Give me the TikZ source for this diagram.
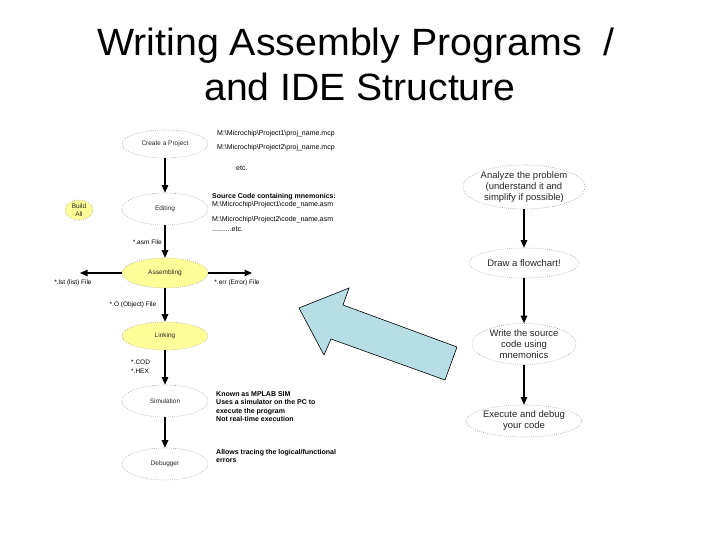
\documentclass[tikz,border=0pt]{standalone}
\usepackage{fontspec}
\setmainfont{Liberation Sans}
\usetikzlibrary{arrows.meta,shapes.geometric}
\definecolor{yellowfill}{RGB}{255,255,153}
\definecolor{arrowblue}{RGB}{183,222,228}
\begin{document}
\begin{tikzpicture}[x=1pt,y=-1pt,
  flow/.style={ellipse,draw=gray!75,dash pattern=on 0.7pt off 1.4pt,line width=0.6pt,inner sep=0pt,font=\fontsize{6.5}{7.5}\selectfont,align=center,text=black!85},
  ylw/.style={flow,fill=yellowfill},
  rflow/.style={flow,font=\fontsize{9.5}{11}\selectfont},
  conn/.style={line width=1.1pt,-{Triangle[width=6.5pt,length=7.5pt]}},
  note/.style={anchor=west,font=\fontsize{7}{8.5}\selectfont,align=left,inner sep=0pt},
  bnote/.style={note,font=\fontsize{7}{8.5}\selectfont\bfseries},
  lbl/.style={font=\fontsize{6.5}{8.5}\selectfont,inner sep=0pt,align=left},
  titletext/.style={font=\fontsize{38}{46}\selectfont,inner sep=0pt,anchor=base}
]
\useasboundingbox (0,0) rectangle (720,540);
% title
\node[titletext] (t1) at (356,56) {\scalebox{1.035}[1]{Writing Assembly Programs\ \ /}};
\node[titletext] (t2) at (360,101) {\scalebox{1.03}[1]{and IDE Structure}};

% left flowchart
\node[flow,minimum width=86pt,minimum height=28pt] (create) at (165,144) {Create a Project};
\node[flow,minimum width=86pt,minimum height=32pt] (edit) at (165,209) {Editing};
\node[ylw,minimum width=28pt,minimum height=20pt] (build) at (79,210) {Build\\All};
\node[ylw,minimum width=86pt,minimum height=30pt] (asm) at (165,273) {Assembling};
\node[ylw,minimum width=86pt,minimum height=28pt] (link) at (165,336) {Linking};
\node[flow,minimum width=86pt,minimum height=32pt] (sim) at (165,401) {Simulation};
\node[flow,minimum width=86pt,minimum height=32pt] (dbg) at (165,464) {Debugger};

\coordinate (lstend) at (80,273);
\coordinate (errend) at (252,273);

\draw[conn] (create) -- (edit);
\draw[conn] (edit) -- (asm);
\draw[conn] (asm) -- (link);
\draw[conn] (link) -- (sim);
\draw[conn] (sim) -- (dbg);
\draw[conn] (asm) -- (lstend);
\draw[conn] (asm) -- (errend);

\node[lbl,anchor=east] (asmfile) at (162,242) {*.asm File};
\node[lbl] (lstfile) at (73,283) {*.lst (list) File};
\node[lbl] (errfile) at (237,283) {*.err (Error) File};
\node[lbl] (objfile) at (133,305) {*.O (Object) File};
\node[lbl,anchor=north west] (codhex) at (131,360) {*.COD\\*.HEX};

% notes
\node[note] (p1) at (217,134) {M:\textbackslash Microchip\textbackslash Project1\textbackslash proj\_name.mcp};
\node[note] (p2) at (217,148) {M:\textbackslash Microchip\textbackslash Project2\textbackslash proj\_name.mcp};
\node[note] (etc1) at (236,168) {etc.};
\node[bnote] (src) at (212,197) {Source Code containing mnemonics:};
\node[note] (c1) at (212,205) {M:\textbackslash Microchip\textbackslash Project1\textbackslash code\_name.asm};
\node[note] (c2) at (212,220) {M:\textbackslash Microchip\textbackslash Project2\textbackslash code\_name.asm};
\node[note] (etc2) at (212,229) {..........etc.};
\node[bnote,anchor=north west] (known) at (216,391) {Known as MPLAB SIM\\Uses a simulator on the PC to\\execute the program\\Not real-time execution};
\node[bnote,anchor=north west] (allows) at (216,449) {Allows tracing the logical/functional\\errors};

% right flowchart
\node[rflow,minimum width=110pt,minimum height=44pt] (analyze) at (524,187) {Analyze the problem\\(understand it and\\simplify if possible)};
\node[rflow,minimum width=110pt,minimum height=30pt] (drawfc) at (524,263) {Draw a flowchart!};
\node[rflow,minimum width=104pt,minimum height=36pt] (write) at (524,344) {Write the source\\code using\\mnemonics};
\node[rflow,minimum width=104pt,minimum height=32pt] (exec) at (524,421) {Execute and debug\\your code};
\draw[conn] (analyze) -- (drawfc);
\draw[conn] (drawfc) -- (write);
\draw[conn] (write) -- (exec);

% big arrow
\draw[fill=arrowblue,line width=0.6pt,line join=miter]
  (299,308) -- (349,288) -- (343,305) -- (457,347) -- (445,380) -- (331,339) -- (324,355) -- cycle;
\end{tikzpicture}
\end{document}
